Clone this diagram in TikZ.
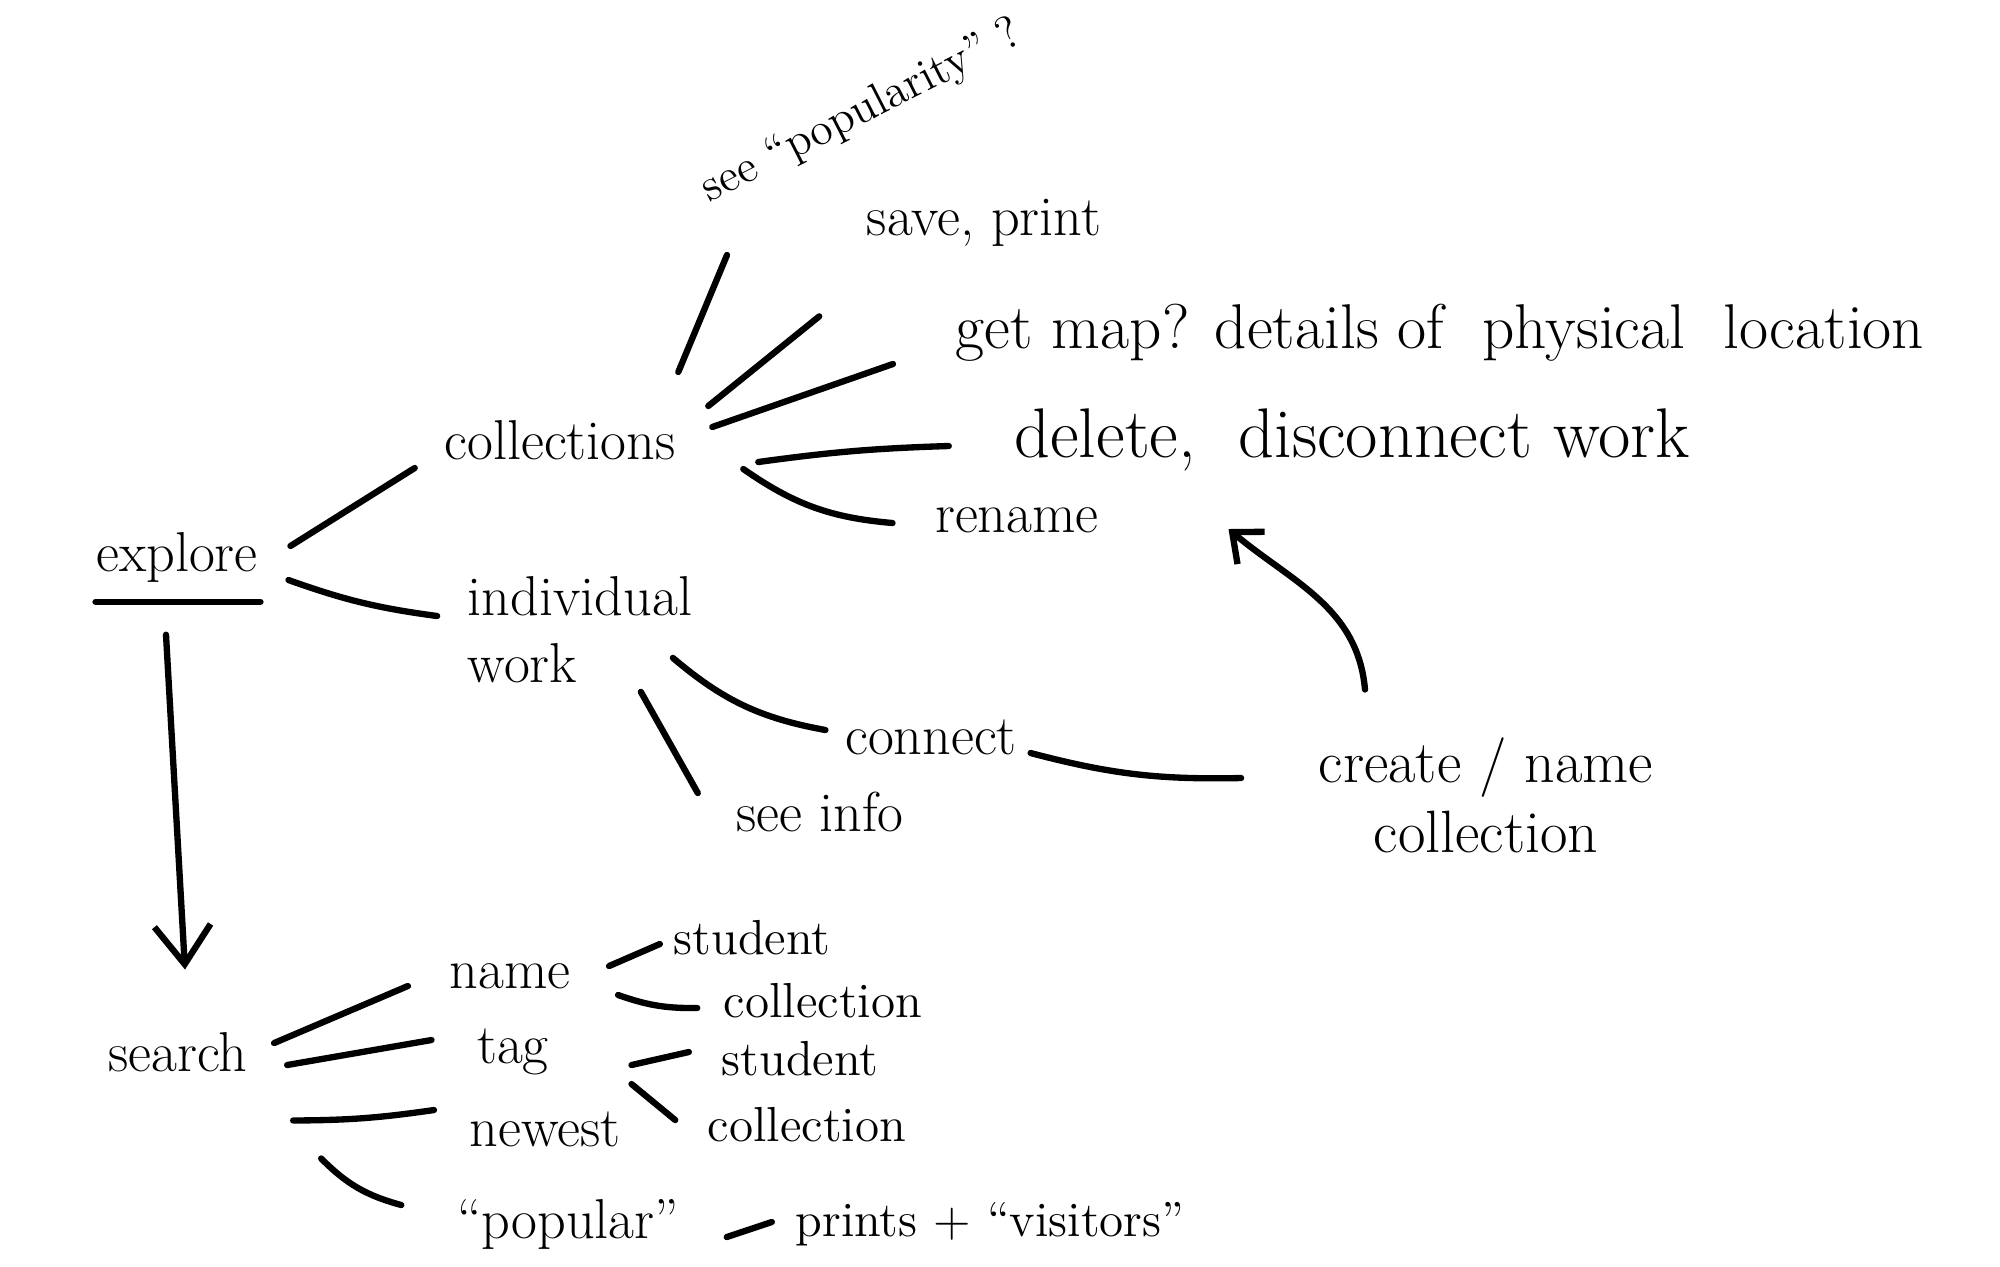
\documentclass[tikz,border=0pt]{standalone}
\usepackage{tikz}
\usetikzlibrary{arrows.meta}

\begin{document}
\begin{tikzpicture}[>={Straight Barb[length=7pt,width=12pt]},
  word/.style={inner sep=2pt, font=\fontsize{16}{19}\selectfont},
  big/.style={inner sep=2pt, font=\fontsize{18}{21}\selectfont},
  small/.style={inner sep=2pt, font=\fontsize{14}{17}\selectfont},
  link/.style={line width=1.8pt, line cap=round}]
  \useasboundingbox (0,0) rectangle (20,-12.66);
  % Explore branch
  \node[word] (explore) at (1.77,-5.57) {explore};
  \draw[link] ([shift={(0.07,-0.12)}]explore.south west) -- ([shift={(-0.05,-0.12)}]explore.south east);
  \node[word] (coll) at (5.60,-4.40) {collections};
  \node[word, align=left] (indiv) at (5.80,-6.30) {individual\\work};
  \draw[link] ([shift={(0.25,0.11)}]explore.east) -- ([shift={(-0.22,-0.28)}]coll.west);
  \draw[link] ([shift={(0.23,-0.23)}]explore.east) to[bend right=6] ([shift={(-0.23,0.14)}]indiv.west);
  % collections
  \node[small, font=\fontsize{13}{16}\selectfont, rotate=27] (popul) at (8.62,-1.12) {see ``popularity'' ?};
  \node[word] (save) at (9.84,-2.23) {save, print};
  \node[big] (getmap) at (14.40,-3.33) {get map? details of\ \ physical\ \ location};
  \node[word, font=\fontsize{20}{23}\selectfont] (delete) at (13.52,-4.40) {delete,\ \ disconnect work};
  \node[word] (rename) at (10.17,-5.20) {rename};
  \draw[link] ([shift={(-0.05,0.68)}]coll.east) -- ([shift={(-1.35,-1.43)}]popul.center);
  \draw[link] ([shift={(0.25,0.34)}]coll.east) -- ([shift={(-0.40,-0.62)}]save.south west);
  \draw[link] ([shift={(0.29,0.13)}]coll.east) -- ([shift={(-0.55,-0.31)}]getmap.west);
  \draw[link] ([shift={(0.75,-0.22)}]coll.east) to[bend left=3] ([shift={(-0.58,-0.06)}]delete.west);
  \draw[link] ([shift={(0.60,-0.29)}]coll.east) to[bend right=15] ([shift={(-0.35,-0.03)}]rename.west);
  % individual work
  \node[word] (connect) at (9.31,-7.37) {connect};
  \node[word, font=\fontsize{17}{20}\selectfont, align=center] (create) at (14.86,-7.95) {create / name\\collection};
  \node[word] (seeinfo) at (8.20,-8.12) {see info};
  \draw[link] ([shift={(-0.27,0.33)}]indiv.south east) to[bend right=15] ([shift={(-0.12,0.07)}]connect.west);
  \draw[link] ([shift={(-0.59,-0.01)}]indiv.south east) -- ([shift={(-0.31,0.19)}]seeinfo.west);
  \draw[link] ([shift={(0.06,-0.16)}]connect.east) to[bend right=8] ([shift={(-0.70,0.17)}]create.west);
  \draw[link, ->] ([shift={(-1.21,0.40)}]create.north) to[out=95, in=-40] ([shift={(1.22,-0.09)}]rename.east);
  % Search branch
  \node[word] (search) at (1.78,-10.52) {search};
  \draw[link, ->, >={Straight Barb[length=11pt,width=16pt]}] ([shift={(-0.11,-0.45)}]explore.south) -- ([shift={(0.07,0.55)}]search.north);
  \node[word] (name) at (5.10,-9.76) {name};
  \node[word] (tag) at (5.13,-10.52) {tag};
  \node[word] (newest) at (5.45,-11.29) {newest};
  \node[word] (popular) at (5.68,-12.24) {``popular''};
  \node[small] (prints) at (9.90,-12.24) {prints + ``visitors''};
  \draw[link] ([shift={(0.19,0.09)}]search.east) -- ([shift={(-0.34,-0.10)}]name.west);
  \draw[link] ([shift={(0.32,-0.13)}]search.east) -- ([shift={(-0.38,0.12)}]tag.west);
  \draw[link] ([shift={(0.38,-0.41)}]search.south east) to[bend right=4] ([shift={(-0.28,0.19)}]newest.west);
  \draw[link] ([shift={(0.66,-0.79)}]search.south east) to[bend right=15] ([shift={(-0.48,0.19)}]popular.west);
  \draw[link] ([shift={(0.40,-0.13)}]popular.east) -- ([shift={(-0.16,0.02)}]prints.west);
  % name / tag
  \node[small] (stud1) at (7.52,-9.38) {student};
  \node[small] (coll1) at (8.23,-10.01) {collection};
  \node[small] (stud2) at (8.00,-10.59) {student};
  \node[small] (coll2) at (8.07,-11.25) {collection};
  \draw[link] ([shift={(0.31,0.10)}]name.east) -- ([shift={(-0.06,-0.06)}]stud1.west);
  \draw[link] ([shift={(0.40,-0.19)}]name.east) to[bend right=10] ([shift={(-0.19,-0.07)}]coll1.west);
  \draw[link] ([shift={(0.75,-0.13)}]tag.east) -- ([shift={(-0.25,0.07)}]stud2.west);
  \draw[link] ([shift={(0.75,-0.32)}]tag.east) -- ([shift={(-0.25,0.05)}]coll2.west);
\end{tikzpicture}
\end{document}
